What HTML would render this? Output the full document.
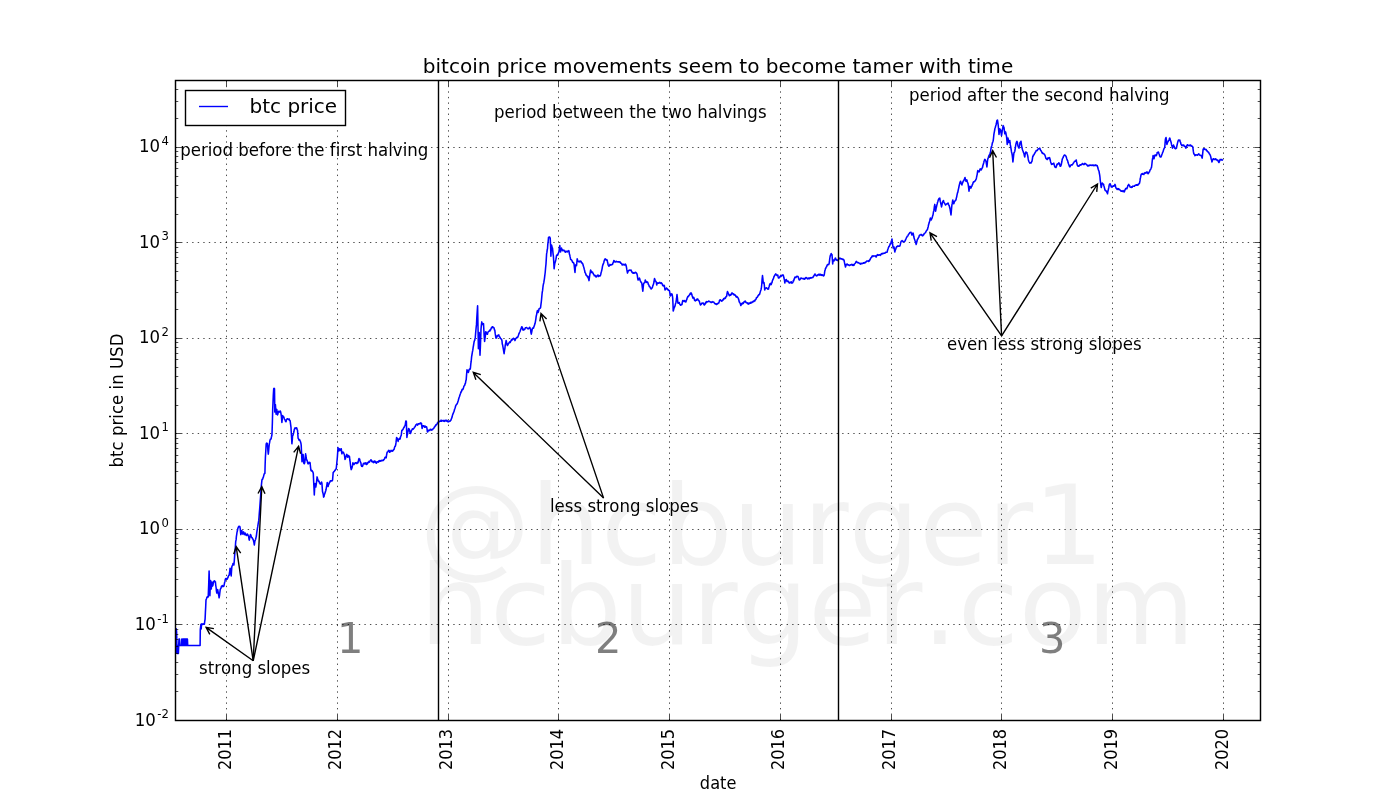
<!DOCTYPE html>
<html><head><meta charset="utf-8"><title>bitcoin price movements</title>
<style>html,body{margin:0;padding:0;background:#fff;}svg{display:block;will-change:transform;}text{font-family:'DejaVu Sans','Liberation Sans',sans-serif;fill:#000;font-variant-ligatures:none;font-kerning:none;}</style></head><body>
<svg width="1400" height="800" viewBox="0 0 1400 800">
<rect width="1400" height="800" fill="#fff"/>
<g fill="#000" fill-opacity="0.052" font-size="111.1px">
<text x="419.5" y="564.3" style="fill:inherit">@hcburger1</text>
<text x="419.7" y="643.8" style="fill:inherit">hcburger.com</text></g>
<path d="M226.5 720.5V80.5M337.5 720.5V80.5M448.5 720.5V80.5M558.5 720.5V80.5M669.5 720.5V80.5M780.5 720.5V80.5M891.5 720.5V80.5M1001.5 720.5V80.5M1112.5 720.5V80.5M1223.5 720.5V80.5M175.5 624.5H1260.5M175.5 529.5H1260.5M175.5 433.5H1260.5M175.5 338.5H1260.5M175.5 242.5H1260.5M175.5 147.5H1260.5" stroke="#000" stroke-width="0.7" stroke-dasharray="1.3889 4.1667" fill="none"/>
<polyline fill="none" stroke="#0000ff" stroke-width="1.55" stroke-linejoin="round" points="176.0,653.7 176.3,628.8 176.6,632.0 176.9,645.4 177.2,653.5 177.5,645.4 177.8,653.5 178.1,645.4 178.4,653.5 178.7,645.4 179.0,639.1 179.2,639.1 179.5,639.1 179.9,645.4 180.3,645.4 180.7,645.4 181.1,645.4 181.5,645.4 181.8,639.1 182.1,639.1 182.3,639.1 182.6,645.4 183.0,645.4 183.2,639.1 183.5,645.4 183.8,639.1 184.1,645.4 184.4,639.1 184.7,645.4 185.0,639.1 185.3,645.4 185.6,639.1 185.9,645.4 186.2,639.1 186.5,645.4 186.8,639.1 187.1,645.4 187.4,639.1 187.7,645.4 188.0,645.4 188.4,645.4 188.8,645.4 189.2,645.4 189.7,645.4 190.1,645.4 190.5,645.4 190.9,645.4 191.3,645.4 191.8,645.4 192.2,645.4 192.6,645.4 193.0,645.4 193.4,645.4 193.8,645.4 194.3,645.4 194.7,645.4 195.1,645.4 195.5,645.4 195.9,645.4 196.3,645.4 196.8,645.4 197.2,645.4 197.6,645.4 198.0,645.4 198.4,645.4 198.8,645.4 199.3,645.4 199.7,645.4 200.1,645.4 200.3,629.5 200.6,627.0 200.9,624.4 201.2,629.0 201.5,624.4 201.9,623.7 202.3,623.9 202.7,624.5 203.2,624.1 203.6,623.9 204.0,624.3 204.4,624.1 204.7,621.5 205.1,619.1 205.4,612.4 205.7,606.8 206.0,599.9 206.4,599.0 206.9,597.4 207.2,596.9 207.6,597.2 207.9,597.0 208.2,596.9 208.7,584.5 209.1,571.0 209.5,583.7 209.9,595.8 210.2,587.9 210.6,580.6 210.9,585.5 211.3,588.9 211.6,584.9 211.9,582.0 212.3,584.0 212.6,586.1 213.0,584.9 213.4,582.4 213.7,581.3 214.2,581.4 214.6,580.8 215.0,581.9 215.4,581.7 215.7,585.0 216.1,587.5 216.4,590.8 216.8,593.0 217.1,591.6 217.4,591.0 217.7,589.6 218.1,591.8 218.4,593.8 218.8,595.7 219.1,597.8 219.5,595.6 219.8,593.0 220.2,589.6 220.6,588.7 221.0,588.2 221.4,586.4 221.9,586.6 222.3,585.5 222.7,585.8 223.1,586.5 223.5,586.4 223.9,586.1 224.3,584.1 224.6,582.5 225.0,581.2 225.3,579.3 225.7,578.5 226.0,579.2 226.4,578.8 226.7,578.7 227.1,579.3 227.5,577.8 227.9,578.0 228.3,576.2 228.7,575.6 229.2,575.1 229.5,572.7 229.8,571.1 230.1,568.2 230.5,570.2 230.8,573.3 231.2,575.9 231.5,571.2 231.9,566.3 232.2,566.0 232.6,564.9 233.0,563.5 233.3,564.5 233.6,564.1 233.9,564.9 234.3,560.7 234.6,556.4 234.9,552.5 235.3,547.6 235.7,541.5 236.1,539.9 236.4,536.4 236.7,534.6 237.0,532.4 237.4,530.8 237.7,529.1 238.1,527.8 238.4,527.1 238.8,526.4 239.1,526.6 239.5,526.2 239.9,526.7 240.2,528.6 240.5,531.9 240.8,534.6 241.1,533.1 241.5,532.0 241.8,530.5 242.2,532.9 242.6,534.0 242.9,533.6 243.2,532.6 243.6,531.9 243.9,533.5 244.3,534.6 244.6,534.5 245.0,533.1 245.4,533.3 245.7,534.6 246.0,535.1 246.3,535.3 246.6,535.4 247.0,534.9 247.3,534.0 247.7,534.5 248.0,535.2 248.4,536.0 248.7,536.8 249.0,539.0 249.3,540.1 249.7,537.7 250.1,535.8 250.4,534.6 250.8,535.1 251.1,536.0 251.4,537.4 251.8,537.6 252.1,537.6 252.5,538.8 252.8,538.7 253.2,539.6 253.5,540.8 253.9,542.3 254.3,545.0 254.6,543.2 254.9,541.0 255.3,540.1 255.6,539.3 256.0,537.6 256.4,536.0 256.7,533.2 257.0,531.1 257.3,529.1 257.7,526.9 258.0,524.8 258.4,522.4 258.7,520.9 259.0,517.3 259.3,513.4 259.7,508.5 260.1,503.0 260.5,497.5 260.8,493.4 261.1,488.6 261.4,485.1 261.9,480.3 262.2,479.3 262.5,479.2 262.8,478.9 263.1,477.4 263.4,477.1 263.8,475.4 264.1,474.2 264.5,473.3 264.9,473.4 265.1,466.1 265.4,457.5 265.8,450.7 266.2,443.8 266.6,443.1 266.9,443.6 267.2,443.4 267.6,446.2 267.9,450.6 268.3,454.1 268.6,451.4 268.9,447.8 269.3,443.8 269.6,442.7 269.9,440.7 270.2,439.6 270.6,439.1 271.1,439.0 271.4,436.9 271.7,436.2 272.0,434.1 272.4,421.8 272.7,409.4 273.0,402.9 273.3,395.4 273.7,388.8 274.1,388.3 274.5,388.8 274.8,412.1 275.1,408.8 275.4,404.6 275.8,410.1 276.1,414.2 276.5,412.3 276.8,409.4 277.2,412.6 277.5,414.9 277.8,414.2 278.1,413.0 278.5,411.4 278.8,411.3 279.2,411.9 279.6,412.1 279.9,411.7 280.2,411.0 280.5,411.4 280.9,413.1 281.4,416.3 281.6,419.0 281.9,422.5 282.3,418.7 282.7,415.6 283.1,416.3 283.4,417.2 283.7,416.9 284.0,417.6 284.4,419.0 284.7,419.7 285.1,419.7 285.4,421.1 285.7,420.9 286.0,421.8 286.4,420.0 286.9,419.0 287.2,418.7 287.6,418.7 287.9,418.8 288.2,419.3 288.6,419.4 288.9,419.7 289.2,419.0 289.5,420.2 289.9,420.4 290.2,421.1 290.6,424.4 291.0,427.3 291.3,433.2 291.6,437.6 291.9,443.8 292.3,439.9 292.6,435.5 293.0,435.4 293.3,434.1 293.6,433.0 294.0,431.3 294.3,429.3 294.7,428.8 295.0,427.9 295.4,428.0 295.7,428.4 296.1,427.7 296.4,428.4 296.8,428.0 297.1,429.7 297.5,430.0 297.8,434.0 298.1,438.3 298.5,438.6 298.9,439.9 299.2,439.6 299.6,440.4 299.9,440.1 300.2,441.0 300.5,441.8 300.9,443.2 301.2,445.1 301.6,454.0 302.0,461.7 302.2,461.1 302.6,459.4 302.9,456.1 303.1,454.4 303.5,459.4 303.9,463.4 304.3,463.8 304.7,462.8 305.0,460.1 305.3,456.6 305.6,453.8 305.9,456.0 306.2,457.4 306.5,460.0 306.9,459.9 307.3,461.1 307.7,463.2 308.1,463.9 308.4,463.6 308.7,462.9 309.0,462.3 309.4,463.1 309.8,462.5 310.1,462.8 310.5,467.0 310.9,470.1 311.3,470.9 311.6,470.3 312.0,470.6 312.4,471.3 312.7,471.7 313.0,472.4 313.3,473.5 313.5,478.1 313.7,482.5 314.0,488.4 314.3,494.9 314.6,489.1 315.0,483.6 315.4,484.8 315.8,487.0 316.1,485.4 316.5,482.5 316.8,479.5 317.1,476.9 317.4,478.0 317.7,479.3 318.0,480.3 318.4,481.2 318.8,480.9 319.1,481.4 319.5,483.0 319.9,483.3 320.3,484.2 320.6,483.7 320.9,483.1 321.2,482.5 321.6,482.1 321.9,483.1 322.2,487.2 322.5,491.5 322.9,492.9 323.3,494.5 323.6,497.1 324.0,496.5 324.4,494.4 324.8,493.8 325.1,492.6 325.4,491.9 325.8,490.5 326.1,489.3 326.5,486.8 326.9,484.8 327.2,482.5 327.5,483.9 327.8,485.6 328.1,486.5 328.4,484.9 328.7,484.7 329.0,483.6 329.4,482.6 329.7,481.9 330.0,481.9 330.4,480.8 330.8,480.8 331.1,480.9 331.5,480.8 331.9,480.9 332.3,480.7 332.6,479.7 332.9,476.0 333.2,472.4 333.6,472.2 333.9,471.6 334.3,471.3 334.7,470.7 335.1,470.4 335.4,469.6 335.9,469.2 336.2,469.0 336.5,466.1 336.8,463.0 337.1,460.0 337.4,456.6 337.7,452.1 338.0,447.6 338.4,449.9 338.8,451.0 339.2,450.6 339.6,448.8 339.9,449.0 340.2,450.0 340.5,450.4 340.9,450.3 341.3,448.8 341.6,451.8 341.9,453.8 342.2,452.7 342.5,452.1 342.8,452.1 343.1,452.4 343.4,452.2 343.7,453.3 344.1,453.7 344.4,454.9 344.7,456.6 345.0,459.4 345.3,458.8 345.6,458.0 345.9,456.6 346.3,456.1 346.7,454.4 347.1,454.8 347.4,456.6 347.8,457.2 348.1,456.9 348.4,455.5 348.7,455.5 349.1,456.6 349.5,456.6 349.8,460.0 350.1,461.5 350.4,464.5 350.8,467.7 351.2,469.6 351.6,468.6 352.0,467.9 352.3,466.2 352.6,465.2 352.9,462.8 353.3,463.9 353.6,463.4 354.0,464.5 354.4,463.9 354.8,463.4 355.1,462.8 355.5,462.8 355.9,462.8 356.3,463.4 356.6,463.0 356.9,463.5 357.3,462.3 357.6,463.0 358.0,462.8 358.4,461.1 358.7,459.4 359.0,458.5 359.3,458.8 359.6,458.9 359.9,460.2 360.2,461.2 360.5,462.3 360.9,462.9 361.3,465.6 361.7,466.2 362.1,466.4 362.4,466.5 362.8,465.6 363.2,463.9 363.6,463.4 364.0,463.2 364.3,463.1 364.7,463.9 365.1,464.0 365.5,462.9 365.8,462.8 366.2,463.1 366.6,464.5 366.9,463.8 367.2,464.0 367.5,462.8 367.9,463.1 368.3,462.1 368.6,462.3 369.0,461.4 369.4,462.1 369.8,461.1 370.1,460.9 370.4,460.7 370.7,460.0 371.0,459.8 371.4,460.2 371.7,461.6 372.0,461.7 372.4,461.8 372.8,461.4 373.1,462.3 373.5,462.6 373.9,461.7 374.3,461.1 374.6,461.9 374.9,461.1 375.3,462.5 375.6,462.3 376.0,461.8 376.4,463.2 376.8,462.8 377.1,462.4 377.5,461.8 377.9,461.7 378.2,461.6 378.6,462.1 379.0,460.9 379.3,461.1 379.7,460.6 380.0,461.2 380.4,460.8 380.7,460.6 381.0,461.1 381.4,460.5 381.7,460.2 382.0,460.4 382.4,460.4 382.7,460.6 383.1,460.0 383.4,460.4 383.8,459.4 384.2,459.4 384.6,458.7 384.9,457.5 385.3,457.2 385.6,457.2 385.9,456.9 386.2,457.8 386.5,455.5 386.9,453.3 387.2,452.1 387.6,452.1 388.0,451.5 388.3,451.0 388.7,450.3 389.1,450.4 389.4,451.0 389.7,452.2 390.0,452.1 390.4,451.0 390.8,451.5 391.1,450.4 391.5,450.5 391.9,450.8 392.3,451.0 392.6,451.2 392.9,450.3 393.3,450.2 393.6,449.9 393.9,449.4 394.2,449.1 394.5,447.6 394.9,446.5 395.3,446.3 395.7,444.8 396.0,442.7 396.3,440.1 396.6,437.5 396.9,437.9 397.3,438.6 397.7,439.8 398.1,441.4 398.4,440.0 398.7,439.4 399.0,439.2 399.4,438.4 399.8,439.2 400.2,438.6 400.5,437.1 400.9,435.9 401.3,435.3 401.6,432.1 401.9,430.2 402.2,430.3 402.6,430.0 403.0,429.1 403.4,428.8 403.7,427.6 404.1,427.4 404.5,426.2 404.9,425.6 405.2,425.1 405.5,423.1 405.8,421.2 406.1,421.0 406.4,421.8 406.6,429.6 406.9,437.5 407.2,435.3 407.5,434.4 407.8,431.9 408.2,430.9 408.6,428.5 409.0,429.1 409.4,429.6 409.7,430.9 410.1,433.0 410.5,433.4 410.9,432.4 411.2,431.2 411.6,430.4 412.0,429.6 412.4,428.7 412.7,429.1 413.1,429.1 413.5,428.7 413.9,428.3 414.2,427.9 414.6,426.9 415.0,426.8 415.4,426.2 415.7,424.9 416.1,424.8 416.5,424.6 416.9,424.1 417.2,424.8 417.6,425.1 418.0,424.1 418.4,423.7 418.7,424.0 419.1,423.7 419.5,423.6 419.9,424.0 420.2,423.6 420.6,422.9 420.9,423.1 421.2,423.6 421.5,423.4 421.8,426.2 422.1,428.5 422.5,427.4 422.9,425.7 423.2,426.4 423.6,425.8 424.0,425.9 424.4,426.2 424.7,427.2 425.1,426.1 425.5,426.8 425.9,427.2 426.2,427.0 426.6,426.8 427.0,428.7 427.4,431.9 427.7,431.8 428.0,431.3 428.3,430.2 428.7,430.4 429.0,430.5 429.4,430.2 429.8,430.5 430.2,429.3 430.5,429.6 430.9,429.7 431.2,429.6 431.6,430.1 431.9,429.6 432.3,429.8 432.6,429.6 433.0,428.9 433.4,428.5 433.7,428.5 434.1,427.6 434.5,426.8 434.9,426.7 435.2,425.7 435.6,425.7 436.0,424.6 436.4,424.4 436.7,424.6 437.1,423.7 437.5,422.7 437.9,423.1 438.2,421.9 438.7,421.8 439.1,421.7 439.5,421.5 439.9,421.1 440.3,421.3 440.7,421.0 441.1,420.1 441.5,421.3 441.9,421.1 442.3,420.6 442.7,420.7 443.1,420.9 443.5,421.1 443.9,420.3 444.4,421.4 444.8,421.1 445.2,420.7 445.6,420.3 446.0,420.5 446.4,421.2 446.8,420.3 447.2,420.6 447.6,421.2 448.0,421.9 448.4,421.4 448.8,421.6 449.2,421.2 449.6,421.1 450.0,421.2 450.4,420.6 450.9,420.2 451.3,419.0 451.7,418.2 452.1,417.1 452.5,415.2 452.9,414.1 453.3,413.1 453.7,412.2 454.1,411.3 454.5,409.5 454.9,408.6 455.3,407.3 455.7,405.8 456.1,405.0 456.5,404.5 456.9,404.1 457.4,403.1 457.8,401.9 458.2,400.7 458.6,399.2 459.0,397.7 459.4,396.8 459.8,395.5 460.2,394.3 460.6,393.2 461.0,391.7 461.4,391.9 461.8,390.2 462.2,389.2 462.6,389.7 463.1,389.1 463.5,387.8 463.9,386.1 464.3,385.7 464.7,385.2 465.1,383.7 465.5,383.1 465.8,380.9 466.2,379.7 466.6,374.4 467.0,369.9 467.4,370.1 467.7,371.8 468.0,371.3 468.3,372.4 468.7,371.4 469.1,369.7 469.5,369.1 469.8,368.9 470.1,369.2 470.4,368.3 470.8,363.9 471.2,361.2 471.6,356.9 472.0,354.5 472.4,352.0 472.8,350.2 473.2,347.1 473.6,345.0 474.0,342.3 474.4,340.7 474.7,340.4 475.0,338.6 475.3,337.4 475.7,332.4 476.1,328.0 476.5,324.4 476.8,318.1 477.2,311.9 477.6,305.7 478.0,326.9 478.4,348.8 478.8,340.1 479.2,332.5 479.6,343.7 480.0,355.3 480.4,346.3 480.7,338.4 481.0,329.3 481.4,324.9 481.8,321.9 482.2,323.6 482.6,324.4 483.1,324.5 483.5,323.6 483.8,329.0 484.2,336.1 484.6,341.5 485.0,338.5 485.4,335.6 485.7,331.7 486.1,332.0 486.4,332.7 486.7,333.4 487.0,334.1 487.4,334.3 487.7,333.1 488.0,332.1 488.3,331.7 488.7,331.4 489.1,331.0 489.6,330.4 490.0,330.9 490.3,329.5 490.7,329.8 491.1,328.5 491.5,327.6 491.9,328.0 492.2,326.8 492.6,326.7 492.9,326.9 493.2,327.4 493.5,327.6 493.9,327.8 494.2,328.7 494.5,330.1 494.8,330.1 495.2,333.4 495.6,336.0 496.0,338.2 496.4,337.6 496.7,337.2 497.1,335.8 497.4,336.2 497.8,335.4 498.1,335.5 498.4,335.0 498.8,334.9 499.2,336.5 499.6,336.7 500.0,337.4 500.4,338.4 500.9,338.8 501.3,338.9 501.7,339.8 502.0,341.0 502.3,344.1 502.6,344.8 503.0,347.1 503.4,349.3 503.7,351.3 504.1,353.7 504.5,350.6 504.9,348.6 505.2,345.5 505.6,343.8 506.1,340.6 506.4,341.5 506.7,343.3 507.0,344.0 507.4,345.5 507.8,345.0 508.2,344.1 508.6,343.2 509.0,343.1 509.4,342.2 509.8,341.8 510.2,342.5 510.6,341.5 511.0,340.9 511.4,339.8 511.8,340.2 512.2,339.0 512.6,339.7 513.0,338.8 513.5,338.2 513.9,338.7 514.2,338.9 514.6,339.4 515.0,340.6 515.3,339.8 515.6,338.8 516.0,338.4 516.3,338.2 516.7,337.4 517.1,337.5 517.5,337.6 517.9,336.6 518.3,335.9 518.7,334.4 519.1,333.4 519.5,332.5 520.0,331.5 520.4,330.3 520.8,329.2 521.2,328.5 521.6,327.0 522.0,326.8 522.4,327.6 522.8,329.7 523.1,330.1 523.5,329.3 523.8,329.7 524.1,329.7 524.4,329.3 524.8,329.4 525.2,328.0 525.6,327.7 526.1,327.6 526.5,327.5 526.9,327.9 527.3,328.2 527.7,328.5 528.1,328.9 528.5,328.6 528.9,328.4 529.3,327.6 529.6,327.3 530.0,327.8 530.3,329.2 530.6,329.3 530.9,332.3 531.3,334.1 531.6,332.5 531.9,331.0 532.2,329.3 532.6,327.9 533.0,327.9 533.5,328.1 533.9,326.8 534.3,325.9 534.7,324.5 535.1,323.3 535.5,321.1 535.9,318.6 536.2,316.2 536.6,314.6 537.0,312.1 537.4,310.6 537.8,311.6 538.1,312.5 538.4,311.5 538.7,310.7 539.0,308.8 539.4,308.8 539.8,308.4 540.2,308.2 540.6,307.5 540.9,304.9 541.2,302.6 541.5,300.0 541.9,295.6 542.2,292.5 542.6,290.4 542.9,287.5 543.2,285.2 543.5,283.8 543.8,282.7 544.1,280.6 544.4,278.8 544.7,276.4 545.0,274.0 545.2,272.5 545.6,267.8 546.0,263.8 546.3,258.9 546.6,253.8 546.9,252.4 547.2,249.8 547.5,248.8 547.8,244.4 548.2,241.3 548.5,237.5 548.8,237.4 549.1,236.9 549.4,236.9 549.7,236.9 550.0,237.9 550.2,238.1 550.6,246.4 550.9,256.2 551.2,250.3 551.5,245.0 551.8,246.0 552.2,247.8 552.5,248.1 552.8,251.1 553.1,254.1 553.4,256.2 553.8,262.5 554.1,268.8 554.4,266.3 554.7,264.2 555.0,262.5 555.3,262.1 555.6,260.7 555.9,259.4 556.2,257.6 556.5,255.7 556.9,255.0 557.2,255.0 557.5,255.3 557.8,255.0 558.1,254.1 558.4,253.0 558.8,252.5 559.1,250.5 559.4,248.6 559.8,245.6 560.0,247.4 560.3,249.2 560.6,251.9 560.9,250.4 561.2,249.3 561.5,248.1 561.8,249.2 562.2,249.4 562.5,250.6 562.9,250.8 563.3,250.5 563.8,250.0 564.2,250.6 564.6,250.9 565.0,251.9 565.4,252.2 565.8,251.2 566.2,251.2 566.7,251.8 567.1,251.3 567.5,251.9 567.9,251.1 568.3,251.3 568.8,250.6 569.1,251.8 569.4,254.1 569.8,255.0 570.0,256.4 570.3,257.5 570.6,259.4 571.0,259.5 571.5,260.1 571.9,260.6 572.3,261.4 572.7,262.4 573.1,262.5 573.4,262.5 573.7,263.2 574.0,263.8 574.3,266.3 574.7,270.1 575.0,272.5 575.3,268.3 575.6,265.0 575.9,264.7 576.2,264.9 576.5,265.6 576.9,262.1 577.2,258.8 577.5,260.1 577.8,260.9 578.1,261.2 578.5,261.5 579.0,261.9 579.4,261.2 579.8,261.8 580.2,261.1 580.6,261.2 581.0,261.3 581.5,262.6 581.9,262.5 582.3,263.6 582.7,263.6 583.1,265.0 583.4,266.2 583.7,266.9 584.0,268.1 584.3,269.4 584.7,270.8 585.0,272.5 585.3,272.9 585.7,273.6 586.0,275.0 586.4,275.1 586.8,275.7 587.2,276.2 587.5,277.0 587.8,276.2 588.1,276.9 588.4,278.7 588.7,279.0 589.0,280.6 589.4,277.6 589.8,275.0 590.0,273.7 590.3,272.1 590.6,270.0 590.9,270.8 591.2,271.1 591.5,272.5 591.8,272.3 592.2,271.9 592.5,271.9 592.8,273.2 593.2,273.2 593.5,274.4 593.9,274.6 594.3,275.7 594.8,275.6 595.1,275.4 595.5,276.1 595.9,276.9 596.2,276.9 596.7,276.8 597.1,275.5 597.5,275.6 597.9,275.1 598.2,275.2 598.6,276.4 599.0,275.6 599.4,276.0 599.8,276.0 600.2,275.8 600.6,275.0 600.9,273.6 601.2,272.2 601.5,271.2 601.8,270.1 602.2,268.1 602.5,266.2 602.9,264.7 603.3,264.0 603.8,262.5 604.1,261.2 604.4,260.1 604.8,259.4 605.2,258.8 605.6,259.7 606.0,259.4 606.4,260.1 606.8,259.9 607.2,260.0 607.5,262.2 607.8,262.8 608.1,265.0 608.4,265.3 608.8,266.2 609.2,265.6 609.6,265.6 610.0,264.4 610.4,265.1 610.8,264.7 611.2,265.0 611.7,264.5 612.1,264.5 612.5,264.4 612.9,263.1 613.3,262.4 613.8,260.6 614.2,260.7 614.6,261.8 615.0,261.9 615.4,262.0 615.8,261.9 616.2,261.2 616.7,261.8 617.1,261.8 617.5,261.9 617.9,261.7 618.2,261.7 618.6,261.7 619.0,262.2 619.4,261.9 619.8,261.7 620.2,262.1 620.6,263.1 621.0,263.1 621.4,263.4 621.8,263.9 622.2,265.0 622.6,264.3 623.0,264.8 623.4,264.3 623.8,264.4 624.1,265.0 624.5,264.8 624.9,265.0 625.2,264.1 625.6,264.4 625.9,264.9 626.2,266.0 626.5,267.5 626.8,269.4 627.2,271.5 627.5,273.1 627.8,272.2 628.2,271.1 628.5,270.6 628.9,270.3 629.3,270.4 629.8,270.0 630.2,270.2 630.6,270.3 631.0,270.0 631.4,271.2 631.8,271.9 632.2,272.5 632.6,272.2 633.0,273.2 633.4,272.7 633.8,273.1 634.1,273.1 634.5,272.7 634.9,273.0 635.2,272.3 635.6,272.5 636.0,272.6 636.5,273.0 636.9,273.8 637.3,275.4 637.7,278.4 638.1,280.0 638.5,279.5 639.0,278.5 639.4,278.1 639.8,279.0 640.2,280.8 640.6,281.2 641.0,282.1 641.5,282.6 641.9,283.8 642.2,286.6 642.5,288.9 642.8,291.2 643.1,288.4 643.5,284.4 643.8,283.3 644.1,283.1 644.4,282.5 644.7,282.1 645.0,281.2 645.3,280.0 645.6,281.3 645.9,281.1 646.2,282.5 646.5,282.1 646.9,281.7 647.2,282.0 647.6,282.1 648.0,283.0 648.3,284.4 648.7,284.8 649.0,285.5 649.3,286.5 649.7,286.4 650.0,287.0 650.4,288.1 650.8,288.3 651.2,289.0 651.5,288.2 651.9,288.3 652.2,287.5 652.5,287.2 652.9,285.4 653.2,285.0 653.6,283.6 654.0,282.0 654.2,280.4 654.5,278.5 654.9,279.4 655.2,281.0 655.6,281.1 656.0,281.5 656.4,282.8 656.7,285.0 657.1,283.6 657.5,283.0 657.8,282.8 658.2,283.2 658.5,283.2 658.8,283.2 659.2,282.6 659.5,282.8 659.8,282.4 660.2,282.9 660.5,283.2 660.8,283.4 661.2,282.7 661.5,283.0 661.8,283.4 662.2,284.0 662.5,285.0 662.8,285.7 663.2,285.7 663.5,286.0 663.9,285.2 664.3,285.5 664.6,287.3 665.0,290.0 665.4,289.4 665.8,289.0 666.1,288.6 666.5,288.0 666.8,288.7 667.2,288.5 667.5,289.5 667.8,289.3 668.2,290.1 668.5,290.0 668.8,290.2 669.2,290.4 669.5,291.0 669.9,293.3 670.2,296.0 670.6,295.5 671.0,294.0 671.3,293.8 671.7,294.1 672.0,294.0 672.4,295.8 672.7,298.0 673.0,304.4 673.2,311.0 673.6,309.9 674.0,308.0 674.3,307.9 674.7,306.5 675.0,306.0 675.4,304.1 675.8,303.0 676.1,301.3 676.5,299.0 676.8,296.4 677.0,294.5 677.4,297.9 677.8,302.5 678.1,303.2 678.5,303.0 678.9,302.7 679.2,302.5 679.6,303.9 680.0,304.5 680.3,304.6 680.7,305.3 681.0,305.0 681.3,304.8 681.7,304.3 682.0,304.5 682.4,301.9 682.8,300.5 683.1,300.7 683.5,301.0 683.8,301.0 684.1,301.5 684.5,300.5 684.8,301.0 685.1,301.5 685.5,301.5 685.8,302.0 686.1,301.2 686.5,299.9 686.8,299.5 687.1,298.2 687.5,297.5 687.8,296.5 688.1,296.8 688.5,295.7 688.8,296.0 689.1,295.3 689.5,295.0 689.8,294.0 690.1,294.2 690.5,293.0 690.8,293.0 691.1,292.9 691.5,294.2 691.8,294.0 692.1,295.9 692.5,296.6 692.8,298.0 693.1,297.3 693.5,298.2 693.8,297.5 694.1,298.4 694.5,300.0 694.8,300.5 695.1,300.6 695.5,300.9 695.8,300.5 696.1,299.8 696.5,300.2 696.8,299.5 697.1,299.0 697.5,299.1 697.8,299.0 698.1,299.9 698.5,300.4 698.8,300.5 699.1,300.9 699.5,301.8 699.8,303.0 700.1,303.9 700.5,305.0 700.8,304.7 701.2,304.2 701.5,304.0 701.8,303.2 702.2,303.0 702.5,303.0 702.9,303.3 703.3,303.0 703.6,304.1 704.0,303.8 704.3,305.0 704.6,304.6 705.0,304.3 705.3,303.5 705.6,302.4 706.0,302.9 706.3,302.0 706.7,301.5 707.1,302.0 707.5,301.8 707.8,301.7 708.2,301.6 708.5,301.2 708.8,301.1 709.2,301.3 709.5,301.5 709.8,301.8 710.2,301.7 710.5,302.0 710.8,302.4 711.2,302.3 711.5,302.5 711.8,302.3 712.2,301.6 712.5,302.0 712.8,302.1 713.2,302.0 713.5,302.0 713.8,302.0 714.2,303.0 714.5,303.0 714.8,303.7 715.2,303.6 715.5,304.0 715.8,303.8 716.2,304.3 716.5,304.5 716.8,303.9 717.2,303.7 717.5,304.0 717.8,303.7 718.1,303.0 718.5,303.2 718.8,303.0 719.1,302.0 719.5,300.4 719.8,300.0 720.1,300.3 720.5,299.8 720.8,300.5 721.1,300.9 721.5,301.2 721.8,301.0 722.1,300.9 722.5,300.1 722.8,300.5 723.1,299.8 723.5,299.0 723.8,298.5 724.1,299.0 724.5,298.1 724.8,298.5 725.1,298.4 725.5,298.1 725.8,297.0 726.1,296.8 726.5,296.4 726.8,295.5 727.1,293.1 727.5,291.5 727.9,292.8 728.2,293.0 728.6,294.0 729.0,295.0 729.3,295.6 729.7,295.6 730.0,295.2 730.3,294.6 730.7,295.1 731.0,294.5 731.3,294.5 731.7,293.0 732.0,293.0 732.3,293.1 732.7,294.0 733.0,294.0 733.3,293.8 733.7,294.8 734.0,294.5 734.3,294.4 734.7,295.2 735.0,295.0 735.3,295.1 735.7,296.0 736.0,296.5 736.4,297.2 736.8,296.5 737.2,297.0 737.5,297.1 737.9,297.7 738.2,298.0 738.5,299.1 738.9,300.1 739.2,302.0 739.6,302.1 740.0,303.0 740.4,303.8 740.8,305.5 741.1,305.0 741.5,303.5 741.8,303.7 742.2,304.0 742.5,303.5 742.8,302.9 743.2,303.5 743.5,303.0 743.8,302.0 744.2,302.0 744.5,301.5 744.9,301.4 745.2,301.0 745.5,301.3 745.9,302.4 746.2,302.5 746.5,302.7 746.9,302.9 747.2,303.0 747.5,303.6 747.9,302.9 748.2,303.5 748.5,304.1 748.9,303.7 749.2,303.5 749.5,303.1 749.9,303.4 750.2,302.8 750.5,302.4 750.9,303.2 751.2,302.5 751.5,302.5 751.9,302.1 752.2,302.4 752.5,302.0 752.9,301.7 753.2,301.2 753.6,301.7 754.0,301.2 754.4,300.4 754.8,301.0 755.1,300.0 755.5,300.0 755.8,299.3 756.2,298.9 756.5,297.5 756.8,297.4 757.2,297.4 757.5,297.0 757.8,296.3 758.2,295.4 758.5,295.5 758.8,294.6 759.2,294.4 759.5,294.5 759.8,293.5 760.2,292.1 760.5,291.0 760.9,290.0 761.2,289.0 761.5,287.0 761.8,284.0 762.1,279.3 762.5,275.5 762.9,278.9 763.2,283.0 763.6,282.9 764.0,282.5 764.4,285.7 764.7,290.0 765.1,288.6 765.5,288.5 765.8,288.2 766.2,287.7 766.5,288.0 766.8,288.2 767.2,288.3 767.5,289.0 767.8,289.1 768.2,289.1 768.5,289.0 768.8,287.3 769.2,286.5 769.5,285.0 769.9,284.2 770.3,283.5 770.6,283.4 770.9,284.7 771.2,284.5 771.6,283.2 772.0,282.5 772.3,281.1 772.7,280.0 773.0,279.5 773.3,278.7 773.7,277.9 774.0,276.5 774.3,276.3 774.7,275.4 775.0,275.0 775.3,274.4 775.7,273.9 776.0,274.2 776.3,274.8 776.7,275.1 777.0,275.5 777.4,275.1 777.8,275.0 778.1,276.7 778.5,278.0 778.8,277.6 779.2,277.9 779.5,277.0 779.8,277.0 780.2,276.2 780.5,276.2 780.8,276.6 781.2,275.5 781.5,276.0 781.8,275.7 782.2,275.2 782.5,275.0 782.8,275.0 783.2,275.1 783.5,276.0 783.9,277.8 784.2,279.0 784.5,280.4 784.8,283.0 785.1,281.6 785.5,280.0 785.9,280.3 786.2,279.5 786.6,280.1 787.0,281.5 787.3,281.0 787.7,281.3 788.0,281.0 788.3,281.5 788.7,282.2 789.0,282.5 789.3,283.0 789.7,282.4 790.0,283.0 790.3,282.4 790.7,282.1 791.0,282.0 791.3,281.8 791.7,283.1 792.0,283.0 792.3,283.0 792.7,282.6 793.0,282.0 793.3,280.6 793.7,280.8 794.0,279.5 794.3,279.0 794.7,277.8 795.0,277.0 795.3,277.5 795.7,277.3 796.0,277.5 796.3,276.8 796.7,276.4 797.0,276.5 797.4,276.4 797.8,276.3 798.2,277.0 798.5,277.8 798.9,279.3 799.2,280.0 799.5,279.9 799.9,279.8 800.2,279.0 800.5,278.9 800.9,278.1 801.2,278.0 801.5,278.2 801.9,278.2 802.2,278.7 802.5,278.5 802.9,278.6 803.2,278.4 803.6,278.9 804.0,278.8 804.4,279.2 804.8,278.2 805.1,278.8 805.5,278.2 805.8,277.5 806.2,277.6 806.5,277.8 806.8,277.7 807.2,278.6 807.5,278.5 807.9,279.0 808.2,278.6 808.6,278.1 809.0,278.2 809.4,278.6 809.8,277.8 810.1,277.6 810.5,277.8 810.9,278.2 811.2,277.8 811.6,277.8 812.0,277.5 812.4,277.5 812.8,277.6 813.2,276.8 813.5,276.2 813.9,276.0 814.2,275.0 814.6,274.7 815.0,274.0 815.3,274.9 815.7,274.9 816.0,275.5 816.3,275.9 816.7,275.8 817.0,275.8 817.3,275.3 817.7,274.9 818.0,275.0 818.4,275.0 818.8,274.2 819.2,274.5 819.5,275.1 819.9,274.3 820.2,274.3 820.5,275.0 820.8,274.5 821.2,275.4 821.5,274.8 821.8,274.9 822.2,274.8 822.5,275.5 822.8,275.1 823.2,275.3 823.5,276.0 823.9,275.7 824.2,275.0 824.5,273.2 824.8,271.0 825.1,270.0 825.5,268.5 825.8,268.3 826.2,267.0 826.5,267.0 826.9,266.1 827.2,265.0 827.6,264.6 828.0,264.5 828.3,264.7 828.7,264.6 829.0,264.0 829.4,262.0 829.7,259.0 830.1,256.5 830.5,255.0 830.9,254.7 831.2,253.5 831.6,254.5 832.0,254.5 832.4,259.8 832.7,264.0 833.0,261.5 833.3,260.0 833.6,260.1 834.0,261.0 834.4,260.0 834.8,260.0 835.1,258.4 835.5,258.0 835.9,259.2 836.2,259.5 836.6,260.1 837.0,260.0 837.4,260.4 837.8,260.5 838.2,260.1 838.6,259.0 839.0,259.0 839.3,258.5 839.6,258.1 840.0,258.5 840.4,258.2 840.8,259.0 841.2,258.8 841.5,258.7 841.9,259.0 842.2,259.2 842.5,259.5 842.9,259.1 843.2,259.5 843.6,259.7 844.0,260.0 844.4,262.2 844.8,264.0 845.1,265.4 845.5,267.0 845.9,265.6 846.2,264.5 846.5,264.8 846.9,264.2 847.2,264.0 847.5,264.7 847.9,264.8 848.2,265.0 848.5,264.7 848.9,265.2 849.2,265.5 849.5,265.3 849.9,265.4 850.2,265.0 850.5,264.7 850.9,264.9 851.2,264.7 851.5,264.5 851.8,264.4 852.2,265.2 852.5,265.0 852.9,264.6 853.2,265.4 853.6,264.8 854.0,265.2 854.3,264.1 854.7,263.8 855.0,263.5 855.3,263.2 855.7,262.8 856.0,261.8 856.3,261.4 856.7,261.9 857.0,262.0 857.3,262.3 857.7,262.8 858.0,262.8 858.4,262.6 858.8,263.1 859.2,263.2 859.5,263.2 859.9,263.8 860.2,263.4 860.5,263.8 860.8,264.2 861.1,263.4 861.5,263.3 861.8,263.5 862.2,263.6 862.6,263.3 863.0,263.2 863.4,262.7 863.8,263.1 864.1,262.5 864.5,262.8 864.8,262.9 865.1,262.6 865.5,262.5 865.8,262.0 866.2,261.8 866.6,261.2 867.0,261.0 867.4,261.0 867.8,261.0 868.2,261.2 868.5,261.5 868.9,260.6 869.2,261.0 869.5,260.9 869.9,259.5 870.2,259.5 870.5,258.5 870.9,257.9 871.2,257.5 871.5,257.4 871.9,256.5 872.2,256.0 872.5,255.9 872.9,256.5 873.2,256.2 873.5,255.9 873.9,256.0 874.2,256.0 874.5,256.0 874.9,256.1 875.2,255.8 875.5,256.4 875.9,256.8 876.2,257.0 876.5,256.2 876.9,255.5 877.2,255.0 877.5,254.6 877.9,255.2 878.2,254.8 878.5,255.0 878.9,255.2 879.2,255.0 879.5,254.7 879.9,255.0 880.2,255.4 880.5,255.2 880.8,254.8 881.1,254.0 881.5,253.9 881.8,253.5 882.2,254.0 882.6,253.4 883.0,253.8 883.4,253.3 883.8,253.2 884.2,253.2 884.5,253.3 884.9,253.3 885.2,252.6 885.5,252.8 885.9,252.3 886.2,252.2 886.6,252.2 887.0,252.2 887.3,251.2 887.7,249.7 888.0,249.0 888.3,248.0 888.7,247.0 889.0,246.5 889.3,246.3 889.7,245.4 890.0,244.5 890.3,243.6 890.7,244.0 891.0,243.0 891.3,241.3 891.7,240.2 892.0,239.0 892.3,242.0 892.6,244.0 892.9,246.3 893.2,248.0 893.6,247.7 894.0,247.0 894.4,249.4 894.8,252.0 895.2,250.4 895.6,249.5 895.9,248.8 896.2,247.4 896.5,247.0 896.8,246.5 897.2,246.6 897.5,246.5 897.8,245.9 898.2,246.1 898.5,246.0 898.8,246.3 899.1,246.2 899.5,246.0 899.8,246.0 900.2,244.9 900.5,243.6 900.9,242.1 901.2,241.2 901.6,241.1 901.9,240.7 902.2,240.6 902.7,241.3 903.1,241.9 903.5,241.9 903.9,241.6 904.3,241.5 904.8,241.2 905.2,240.7 905.6,239.5 906.0,238.8 906.4,237.7 906.8,237.3 907.2,236.2 907.7,236.0 908.1,235.3 908.5,234.4 908.9,233.9 909.3,233.5 909.8,232.5 910.2,232.6 910.6,232.5 911.0,232.2 911.3,233.1 911.6,233.9 911.9,235.0 912.3,234.5 912.7,233.3 913.1,233.1 913.4,234.5 913.7,236.3 914.0,237.5 914.3,238.8 914.7,239.7 915.0,240.6 915.4,241.6 915.8,243.1 916.2,244.4 916.6,242.9 916.9,241.6 917.2,240.0 917.7,239.1 918.1,238.5 918.5,237.5 918.9,237.1 919.3,235.5 919.8,235.0 920.2,234.9 920.6,234.9 921.0,234.4 921.4,234.7 921.8,235.2 922.2,235.6 922.7,235.9 923.1,234.7 923.5,235.0 923.9,234.4 924.3,233.4 924.8,233.1 925.1,232.9 925.5,232.6 925.9,231.7 926.2,231.2 926.7,230.2 927.1,230.1 927.5,229.4 927.8,228.0 928.2,226.7 928.5,225.0 928.8,224.0 929.1,223.1 929.4,221.9 929.7,221.0 930.0,219.4 930.4,218.1 930.7,218.7 931.0,219.8 931.2,220.0 931.6,218.9 931.9,218.5 932.2,217.5 932.6,216.1 932.9,215.3 933.2,213.8 933.5,211.7 933.8,210.9 934.1,208.8 934.4,206.4 934.8,204.4 935.0,206.2 935.3,208.7 935.6,211.2 935.9,209.7 936.2,207.8 936.5,206.9 936.8,205.3 937.2,203.9 937.5,202.5 937.8,201.7 938.2,200.3 938.5,199.4 938.9,198.7 939.3,198.3 939.8,198.1 940.0,199.8 940.3,201.5 940.6,202.5 940.9,204.0 941.2,205.1 941.5,206.9 941.8,205.7 942.2,203.8 942.5,202.5 942.8,201.6 943.2,200.9 943.5,200.6 943.8,201.7 944.2,202.6 944.5,203.1 944.9,203.9 945.2,204.3 945.6,205.0 946.0,204.7 946.5,203.9 946.9,203.8 947.3,204.0 947.7,203.2 948.1,203.1 948.5,204.3 949.0,205.5 949.4,206.2 949.7,207.8 950.0,208.7 950.2,210.0 950.6,212.3 951.0,215.0 951.3,211.7 951.6,208.0 951.9,205.0 952.2,203.7 952.5,201.5 952.8,200.0 953.1,201.6 953.4,202.3 953.8,203.8 954.1,202.8 954.4,201.8 954.8,201.2 955.2,200.8 955.6,200.1 956.0,200.0 956.3,198.0 956.6,197.3 956.9,195.6 957.2,194.2 957.5,192.9 957.9,191.9 958.2,190.2 958.5,188.9 958.8,187.5 959.1,186.0 959.4,184.7 959.8,183.1 960.0,182.7 960.3,181.7 960.6,181.2 961.0,182.9 961.5,184.1 961.9,185.0 962.3,183.3 962.7,182.8 963.1,181.2 963.5,181.0 964.0,180.3 964.4,179.4 964.7,178.1 965.0,177.5 965.3,179.1 965.7,180.1 966.0,181.2 966.3,180.3 966.6,179.9 966.9,180.0 967.3,181.7 967.7,182.7 968.1,183.8 968.4,186.0 968.7,188.3 969.0,191.2 969.3,189.2 969.7,187.7 970.0,186.2 970.3,187.2 970.7,187.3 971.0,188.1 971.4,186.7 971.8,186.4 972.2,185.0 972.7,184.2 973.1,182.6 973.5,181.9 973.9,182.1 974.3,181.6 974.8,181.2 975.2,180.9 975.6,180.2 976.0,179.4 976.3,178.5 976.6,177.2 976.9,175.6 977.2,174.3 977.5,172.0 977.8,170.6 978.2,171.2 978.6,171.5 979.0,171.9 979.4,171.1 979.8,169.7 980.2,168.8 980.6,169.6 980.9,169.6 981.2,170.0 981.7,168.9 982.1,168.1 982.5,167.5 982.9,165.5 983.3,164.2 983.8,162.5 984.1,161.0 984.4,160.4 984.8,159.4 985.2,159.7 985.6,160.6 986.0,161.2 986.3,163.1 986.6,165.0 986.9,166.9 987.2,164.5 987.5,161.0 987.8,158.8 988.2,158.1 988.6,156.6 989.0,155.6 989.4,154.8 989.8,154.1 990.2,153.1 990.6,151.6 990.9,149.2 991.2,147.5 991.6,146.2 991.9,145.5 992.2,143.8 992.6,142.3 992.9,141.8 993.2,140.6 993.5,138.3 993.8,135.2 994.1,133.1 994.4,131.6 994.7,130.0 995.0,128.1 995.3,127.5 995.7,125.9 996.0,125.0 996.3,124.0 996.6,122.1 996.9,120.6 997.2,120.3 997.5,120.0 997.9,122.9 998.2,125.0 998.6,129.2 999.0,134.4 999.4,131.8 999.8,128.8 1000.0,129.3 1000.3,129.4 1000.6,130.0 1000.9,132.2 1001.2,133.6 1001.5,135.6 1001.9,133.4 1002.2,131.2 1002.5,129.4 1002.8,127.8 1003.1,125.6 1003.4,126.0 1003.7,126.8 1004.0,127.5 1004.4,130.6 1004.8,133.8 1005.0,133.2 1005.3,132.8 1005.6,131.9 1005.9,133.1 1006.2,135.1 1006.5,136.2 1006.9,140.2 1007.2,144.4 1007.6,141.2 1008.0,138.1 1008.4,140.1 1008.8,142.5 1009.1,141.9 1009.4,141.7 1009.8,140.6 1010.0,142.7 1010.3,144.7 1010.6,146.2 1010.9,148.0 1011.2,149.8 1011.5,151.9 1011.9,153.2 1012.2,155.0 1012.6,158.5 1012.9,161.9 1013.2,159.3 1013.5,156.7 1013.8,153.8 1014.1,152.5 1014.4,152.3 1014.8,151.2 1015.0,150.0 1015.3,148.0 1015.6,146.2 1015.9,144.3 1016.2,143.1 1016.5,141.9 1016.9,141.4 1017.2,141.9 1017.5,143.0 1017.8,145.2 1018.1,146.2 1018.4,147.0 1018.7,147.7 1019.0,148.1 1019.3,146.5 1019.7,144.8 1020.0,142.5 1020.3,142.2 1020.7,141.8 1021.0,141.2 1021.3,143.5 1021.6,145.6 1021.9,147.5 1022.2,148.6 1022.5,149.8 1022.8,150.6 1023.1,151.2 1023.4,152.4 1023.8,153.1 1024.1,154.3 1024.4,155.9 1024.8,156.9 1025.0,155.0 1025.3,153.6 1025.6,152.5 1025.9,152.0 1026.2,152.8 1026.6,152.9 1026.9,152.5 1027.2,153.9 1027.5,154.9 1027.8,156.2 1028.1,158.2 1028.4,159.9 1028.8,161.2 1029.1,161.9 1029.4,162.2 1029.8,163.1 1030.2,162.9 1030.6,163.0 1031.0,163.1 1031.3,162.3 1031.7,161.8 1032.0,161.2 1032.4,158.9 1032.8,156.2 1033.1,156.3 1033.4,155.0 1033.8,155.0 1034.2,154.4 1034.6,153.3 1035.0,153.1 1035.4,151.9 1035.8,151.8 1036.2,150.6 1036.7,150.5 1037.1,150.6 1037.5,150.0 1037.9,149.5 1038.3,148.7 1038.8,148.8 1039.1,148.4 1039.4,148.4 1039.8,148.1 1040.2,149.4 1040.6,150.3 1041.0,150.6 1041.4,151.4 1041.8,152.2 1042.2,153.1 1042.7,152.9 1043.1,153.7 1043.5,153.8 1043.9,153.9 1044.3,154.2 1044.8,155.0 1045.1,155.6 1045.4,156.6 1045.8,158.1 1046.1,158.7 1046.5,158.6 1046.9,159.4 1047.3,159.4 1047.7,158.1 1048.1,158.1 1048.5,158.5 1048.9,157.8 1049.3,157.6 1049.8,158.1 1050.0,159.6 1050.3,160.4 1050.6,161.9 1050.9,162.9 1051.2,163.2 1051.5,164.4 1051.9,163.7 1052.3,164.2 1052.8,163.8 1053.1,163.8 1053.4,163.7 1053.8,163.1 1054.1,164.6 1054.4,165.2 1054.8,166.9 1055.2,167.2 1055.6,167.5 1056.0,167.5 1056.3,166.4 1056.6,165.8 1056.9,164.4 1057.3,163.9 1057.7,164.4 1058.1,163.8 1058.5,163.8 1058.8,162.8 1059.1,163.1 1059.5,163.7 1059.9,165.4 1060.2,166.2 1060.6,166.2 1060.9,165.0 1061.2,165.0 1061.6,162.9 1061.9,161.5 1062.2,159.4 1062.7,158.0 1063.1,157.7 1063.5,156.2 1063.9,155.8 1064.3,155.0 1064.8,155.0 1065.2,155.3 1065.6,155.9 1066.0,156.2 1066.4,157.4 1066.8,158.9 1067.2,160.0 1067.7,160.9 1068.1,162.8 1068.5,163.8 1068.9,164.7 1069.3,166.0 1069.8,166.9 1070.2,166.4 1070.6,165.5 1071.0,165.0 1071.4,164.7 1071.8,165.0 1072.1,165.0 1072.5,164.4 1072.9,164.0 1073.3,163.2 1073.8,162.5 1074.2,161.9 1074.6,161.2 1075.0,161.2 1075.4,161.3 1075.8,160.6 1076.2,160.0 1076.6,162.0 1076.9,163.2 1077.2,165.0 1077.7,165.5 1078.1,166.3 1078.5,166.2 1078.9,166.3 1079.2,165.7 1079.6,165.1 1080.0,165.0 1080.4,164.8 1080.8,165.2 1081.2,164.8 1081.7,164.2 1082.1,164.1 1082.5,163.5 1082.9,163.9 1083.3,164.5 1083.8,164.4 1084.1,164.5 1084.5,163.8 1084.9,163.4 1085.2,163.8 1085.7,163.8 1086.1,164.2 1086.5,164.6 1086.9,164.8 1087.3,165.5 1087.7,166.0 1088.1,166.0 1088.5,165.3 1088.9,165.8 1089.3,165.6 1089.8,165.0 1090.1,165.4 1090.5,165.2 1090.9,165.0 1091.2,165.2 1091.6,165.5 1092.0,165.4 1092.4,165.2 1092.8,165.0 1093.2,165.6 1093.6,165.2 1094.0,165.1 1094.4,165.6 1094.8,165.5 1095.2,165.6 1095.6,164.9 1096.0,165.0 1096.4,165.5 1096.8,165.8 1097.2,165.6 1097.5,166.4 1097.8,167.8 1098.1,168.8 1098.4,169.8 1098.7,170.4 1099.0,171.2 1099.3,173.0 1099.7,175.2 1100.0,177.5 1100.2,180.0 1100.6,182.8 1100.9,185.3 1101.2,187.5 1101.6,186.0 1101.9,184.2 1102.2,183.1 1102.6,183.6 1102.9,183.8 1103.2,183.8 1103.6,184.5 1103.9,185.9 1104.2,186.9 1104.6,188.5 1104.9,189.8 1105.2,190.6 1105.7,190.8 1106.1,191.0 1106.5,191.2 1106.8,192.2 1107.2,192.6 1107.5,193.8 1107.8,191.8 1108.2,190.1 1108.5,188.8 1108.8,187.5 1109.1,185.7 1109.4,184.4 1109.7,184.2 1110.0,183.9 1110.2,183.8 1110.6,184.8 1110.9,185.5 1111.2,186.9 1111.7,186.3 1112.1,187.1 1112.5,186.5 1112.9,186.3 1113.3,185.9 1113.8,186.2 1114.2,185.8 1114.6,185.3 1115.0,184.4 1115.3,185.3 1115.7,187.0 1116.0,188.1 1116.4,188.4 1116.8,189.0 1117.2,189.4 1117.6,188.7 1118.0,188.6 1118.4,189.4 1118.8,188.8 1119.2,189.5 1119.6,189.6 1120.0,190.0 1120.4,190.4 1120.8,190.4 1121.1,191.2 1121.5,191.2 1121.9,191.0 1122.3,191.4 1122.7,191.0 1123.1,190.6 1123.4,191.2 1123.8,191.7 1124.1,191.3 1124.4,191.9 1124.8,190.4 1125.2,189.5 1125.6,188.8 1125.9,188.4 1126.2,188.3 1126.6,188.3 1126.9,188.8 1127.2,187.8 1127.5,187.0 1127.8,185.6 1128.1,185.2 1128.4,185.2 1128.8,184.4 1129.2,185.6 1129.6,185.6 1130.0,186.9 1130.4,187.2 1130.8,187.2 1131.2,187.5 1131.7,186.8 1132.1,187.3 1132.5,186.5 1132.9,186.1 1133.2,186.3 1133.6,186.3 1134.0,186.0 1134.4,186.3 1134.8,185.8 1135.2,185.3 1135.6,185.2 1135.9,185.1 1136.2,184.7 1136.6,185.3 1136.9,184.8 1137.3,185.3 1137.7,184.6 1138.1,185.0 1138.4,184.2 1138.8,184.0 1139.1,183.7 1139.4,183.5 1139.7,182.3 1140.0,180.7 1140.2,178.8 1140.6,177.2 1141.0,175.0 1141.4,174.1 1141.8,174.3 1142.2,173.5 1142.7,174.0 1143.1,174.2 1143.5,174.4 1143.9,174.4 1144.3,173.1 1144.8,173.1 1145.2,172.6 1145.6,173.1 1146.0,172.8 1146.3,172.9 1146.6,172.3 1146.9,171.9 1147.3,172.3 1147.7,173.2 1148.1,173.8 1148.4,173.5 1148.8,172.4 1149.1,172.2 1149.4,171.9 1149.8,170.8 1150.2,169.8 1150.6,169.4 1150.9,168.7 1151.2,167.8 1151.5,167.5 1151.9,164.1 1152.2,161.2 1152.5,159.0 1152.8,157.7 1153.1,155.6 1153.4,156.2 1153.7,157.9 1154.0,158.8 1154.3,157.2 1154.7,155.8 1155.0,155.0 1155.4,155.6 1155.8,155.1 1156.2,155.6 1156.6,155.0 1156.9,153.9 1157.2,152.5 1157.7,152.8 1158.1,152.0 1158.5,152.2 1158.9,153.5 1159.3,154.5 1159.8,156.2 1160.2,156.9 1160.6,157.0 1161.0,156.9 1161.4,156.0 1161.8,154.8 1162.2,153.8 1162.7,152.3 1163.1,151.6 1163.5,150.0 1163.9,148.9 1164.3,148.1 1164.8,146.9 1165.1,142.8 1165.4,139.4 1165.7,138.2 1166.0,137.5 1166.3,139.3 1166.6,142.3 1166.9,144.4 1167.2,143.6 1167.5,142.4 1167.8,141.9 1168.1,141.8 1168.4,140.8 1168.8,140.6 1169.1,139.7 1169.4,138.6 1169.8,138.1 1170.0,138.7 1170.3,140.1 1170.6,140.6 1170.9,141.7 1171.2,142.8 1171.5,144.4 1171.8,145.6 1172.2,146.7 1172.5,148.1 1172.8,147.5 1173.2,145.7 1173.5,145.0 1173.8,146.3 1174.2,146.2 1174.5,147.5 1174.9,148.3 1175.2,148.5 1175.6,148.8 1175.9,148.2 1176.2,148.3 1176.5,148.1 1176.8,146.2 1177.2,144.5 1177.5,143.1 1177.8,141.8 1178.2,140.9 1178.5,140.0 1178.9,140.5 1179.3,140.5 1179.8,140.0 1180.2,141.9 1180.6,142.5 1181.0,144.4 1181.4,144.6 1181.8,145.6 1182.2,145.6 1182.7,145.0 1183.1,145.4 1183.5,145.0 1183.9,145.2 1184.3,146.3 1184.8,146.2 1185.2,146.4 1185.6,147.8 1186.0,148.1 1186.4,146.9 1186.8,145.7 1187.2,145.0 1187.6,144.7 1188.0,145.6 1188.4,145.5 1188.8,145.6 1189.1,145.2 1189.5,145.2 1189.9,145.6 1190.2,145.0 1190.7,145.1 1191.1,145.9 1191.5,146.2 1191.9,146.1 1192.3,146.3 1192.8,146.9 1193.1,149.4 1193.4,151.7 1193.8,153.8 1194.2,154.1 1194.6,154.6 1195.0,155.6 1195.4,154.9 1195.8,155.2 1196.2,154.8 1196.7,154.9 1197.1,154.9 1197.5,155.2 1197.9,154.5 1198.3,154.4 1198.8,153.8 1199.2,154.5 1199.6,155.1 1200.0,155.2 1200.4,155.5 1200.8,155.2 1201.2,155.6 1201.6,156.0 1201.9,157.5 1202.2,158.1 1202.5,155.1 1202.8,152.5 1203.1,149.4 1203.4,148.8 1203.8,149.4 1204.1,148.7 1204.4,148.8 1204.8,149.3 1205.2,149.5 1205.6,149.4 1205.9,149.7 1206.2,149.5 1206.6,150.7 1206.9,150.6 1207.3,151.0 1207.7,151.8 1208.1,151.9 1208.4,152.1 1208.8,152.5 1209.1,153.6 1209.4,153.8 1209.8,154.4 1210.2,155.1 1210.6,156.2 1210.9,157.5 1211.2,159.2 1211.6,160.0 1211.9,161.9 1212.3,160.9 1212.7,159.7 1213.1,158.8 1213.4,158.9 1213.8,158.7 1214.1,159.4 1214.4,159.4 1214.8,159.5 1215.2,159.3 1215.6,158.8 1215.9,158.9 1216.2,159.6 1216.6,159.6 1216.9,160.0 1217.3,160.5 1217.7,160.0 1218.1,160.6 1218.4,161.6 1218.7,162.3 1219.0,162.5 1219.4,161.4 1219.8,160.4 1220.2,159.4 1220.7,159.6 1221.1,159.8 1221.5,160.0 1221.9,159.3 1222.3,160.1 1222.8,159.4"/>
<path d="M438.5 80.5V720.5" stroke="#000" stroke-width="1.4"/>
<path d="M838.5 80.5V720.5" stroke="#000" stroke-width="1.4"/>
<rect x="175.5" y="80.5" width="1085.0" height="640.0" fill="none" stroke="#000" stroke-width="1.45"/>
<path d="M226.5 720.5v-5.6M226.5 80.5v5.6M337.5 720.5v-5.6M337.5 80.5v5.6M448.5 720.5v-5.6M448.5 80.5v5.6M558.5 720.5v-5.6M558.5 80.5v5.6M669.5 720.5v-5.6M669.5 80.5v5.6M780.5 720.5v-5.6M780.5 80.5v5.6M891.5 720.5v-5.6M891.5 80.5v5.6M1001.5 720.5v-5.6M1001.5 80.5v5.6M1112.5 720.5v-5.6M1112.5 80.5v5.6M1223.5 720.5v-5.6M1223.5 80.5v5.6M175.5 720.5h5.6M1260.5 720.5h-5.6M175.5 691.5h2.8M1260.5 691.5h-2.8M175.5 674.5h2.8M1260.5 674.5h-2.8M175.5 662.5h2.8M1260.5 662.5h-2.8M175.5 653.5h2.8M1260.5 653.5h-2.8M175.5 646.5h2.8M1260.5 646.5h-2.8M175.5 639.5h2.8M1260.5 639.5h-2.8M175.5 634.5h2.8M1260.5 634.5h-2.8M175.5 629.5h2.8M1260.5 629.5h-2.8M175.5 624.5h5.6M1260.5 624.5h-5.6M175.5 596.5h2.8M1260.5 596.5h-2.8M175.5 579.5h2.8M1260.5 579.5h-2.8M175.5 567.5h2.8M1260.5 567.5h-2.8M175.5 558.5h2.8M1260.5 558.5h-2.8M175.5 550.5h2.8M1260.5 550.5h-2.8M175.5 544.5h2.8M1260.5 544.5h-2.8M175.5 538.5h2.8M1260.5 538.5h-2.8M175.5 533.5h2.8M1260.5 533.5h-2.8M175.5 529.5h5.6M1260.5 529.5h-5.6M175.5 500.5h2.8M1260.5 500.5h-2.8M175.5 483.5h2.8M1260.5 483.5h-2.8M175.5 471.5h2.8M1260.5 471.5h-2.8M175.5 462.5h2.8M1260.5 462.5h-2.8M175.5 455.5h2.8M1260.5 455.5h-2.8M175.5 448.5h2.8M1260.5 448.5h-2.8M175.5 443.5h2.8M1260.5 443.5h-2.8M175.5 438.5h2.8M1260.5 438.5h-2.8M175.5 433.5h5.6M1260.5 433.5h-5.6M175.5 405.5h2.8M1260.5 405.5h-2.8M175.5 388.5h2.8M1260.5 388.5h-2.8M175.5 376.5h2.8M1260.5 376.5h-2.8M175.5 367.5h2.8M1260.5 367.5h-2.8M175.5 359.5h2.8M1260.5 359.5h-2.8M175.5 353.5h2.8M1260.5 353.5h-2.8M175.5 347.5h2.8M1260.5 347.5h-2.8M175.5 342.5h2.8M1260.5 342.5h-2.8M175.5 338.5h5.6M1260.5 338.5h-5.6M175.5 309.5h2.8M1260.5 309.5h-2.8M175.5 292.5h2.8M1260.5 292.5h-2.8M175.5 280.5h2.8M1260.5 280.5h-2.8M175.5 271.5h2.8M1260.5 271.5h-2.8M175.5 263.5h2.8M1260.5 263.5h-2.8M175.5 257.5h2.8M1260.5 257.5h-2.8M175.5 252.5h2.8M1260.5 252.5h-2.8M175.5 247.5h2.8M1260.5 247.5h-2.8M175.5 242.5h5.6M1260.5 242.5h-5.6M175.5 214.5h2.8M1260.5 214.5h-2.8M175.5 197.5h2.8M1260.5 197.5h-2.8M175.5 185.5h2.8M1260.5 185.5h-2.8M175.5 176.5h2.8M1260.5 176.5h-2.8M175.5 168.5h2.8M1260.5 168.5h-2.8M175.5 162.5h2.8M1260.5 162.5h-2.8M175.5 156.5h2.8M1260.5 156.5h-2.8M175.5 151.5h2.8M1260.5 151.5h-2.8M175.5 147.5h5.6M1260.5 147.5h-5.6M175.5 118.5h2.8M1260.5 118.5h-2.8M175.5 101.5h2.8M1260.5 101.5h-2.8M175.5 89.5h2.8M1260.5 89.5h-2.8M175.5 80.5h2.8M1260.5 80.5h-2.8" stroke="#000" stroke-width="0.7" fill="none"/>
<text font-size="16.67px" text-anchor="end" transform="translate(230.75,728.90) rotate(-90) scale(0.9720,1.0500)">2011</text>
<text font-size="16.67px" text-anchor="end" transform="translate(341.43,728.90) rotate(-90) scale(0.9720,1.0500)">2012</text>
<text font-size="16.67px" text-anchor="end" transform="translate(452.42,728.90) rotate(-90) scale(0.9720,1.0500)">2013</text>
<text font-size="16.67px" text-anchor="end" transform="translate(563.11,728.90) rotate(-90) scale(0.9720,1.0500)">2014</text>
<text font-size="16.67px" text-anchor="end" transform="translate(673.79,728.90) rotate(-90) scale(0.9720,1.0500)">2015</text>
<text font-size="16.67px" text-anchor="end" transform="translate(784.48,728.90) rotate(-90) scale(0.9720,1.0500)">2016</text>
<text font-size="16.67px" text-anchor="end" transform="translate(895.47,728.90) rotate(-90) scale(0.9720,1.0500)">2017</text>
<text font-size="16.67px" text-anchor="end" transform="translate(1006.16,728.90) rotate(-90) scale(0.9720,1.0500)">2018</text>
<text font-size="16.67px" text-anchor="end" transform="translate(1116.84,728.90) rotate(-90) scale(0.9720,1.0500)">2019</text>
<text font-size="16.67px" text-anchor="end" transform="translate(1227.53,728.90) rotate(-90) scale(0.9720,1.0500)">2020</text>
<text font-size="16.67px" text-anchor="end" transform="translate(168.90,725.50) scale(0.9960,1.0500)">10<tspan font-size="11.67px" dx="1.5" dy="-7.1">-2</tspan></text>
<text font-size="16.67px" text-anchor="end" transform="translate(168.90,629.96) scale(0.9960,1.0500)">10<tspan font-size="11.67px" dx="1.5" dy="-7.1">-1</tspan></text>
<text font-size="16.67px" text-anchor="end" transform="translate(168.90,534.42) scale(0.9960,1.0500)">10<tspan font-size="11.67px" dx="1.5" dy="-7.1">0</tspan></text>
<text font-size="16.67px" text-anchor="end" transform="translate(168.90,438.88) scale(0.9960,1.0500)">10<tspan font-size="11.67px" dx="1.5" dy="-7.1">1</tspan></text>
<text font-size="16.67px" text-anchor="end" transform="translate(168.90,343.34) scale(0.9960,1.0500)">10<tspan font-size="11.67px" dx="1.5" dy="-7.1">2</tspan></text>
<text font-size="16.67px" text-anchor="end" transform="translate(168.90,247.80) scale(0.9960,1.0500)">10<tspan font-size="11.67px" dx="1.5" dy="-7.1">3</tspan></text>
<text font-size="16.67px" text-anchor="end" transform="translate(168.90,152.26) scale(0.9960,1.0500)">10<tspan font-size="11.67px" dx="1.5" dy="-7.1">4</tspan></text>
<text font-size="20.00px" text-anchor="middle" transform="translate(718.00,73.00) scale(1.0030,1.0000)">bitcoin price movements seem to become tamer with time</text>
<text font-size="16.67px" text-anchor="middle" transform="translate(718.10,789.00) scale(0.9720,1.0900)">date</text>
<text font-size="16.67px" text-anchor="middle" transform="translate(123.20,400.50) rotate(-90) scale(0.9960,1.0900)">btc price in USD</text>
<rect x="185.5" y="90.5" width="160" height="35" fill="#fff" stroke="#000" stroke-width="1.4"/>
<path d="M199 106.5H228" stroke="#0000ff" stroke-width="1.39"/>
<text font-size="20.00px" transform="translate(249.50,112.50)">btc price</text>
<text font-size="16.67px" transform="translate(180.20,155.80) scale(0.9960,1.0900)">period before the first halving</text>
<text font-size="16.67px" transform="translate(494.00,117.50) scale(0.9960,1.0900)">period between the two halvings</text>
<text font-size="16.67px" transform="translate(909.00,100.50) scale(0.9960,1.0900)">period after the second halving</text>
<text font-size="16.67px" transform="translate(199.00,673.50) scale(0.9960,1.0900)">strong slopes</text>
<text font-size="16.67px" transform="translate(550.00,511.50) scale(0.9960,1.0900)">less strong slopes</text>
<text font-size="16.67px" transform="translate(947.00,349.50) scale(0.9960,1.0900)">even less strong slopes</text>
<text font-size="41.67px" transform="translate(337.00,652.50) scale(1.0000,1.0250)" style="fill:#000" fill-opacity="0.5">1</text>
<text font-size="41.67px" transform="translate(595.00,652.50) scale(1.0000,1.0250)" style="fill:#000" fill-opacity="0.5">2</text>
<text font-size="41.67px" transform="translate(1039.00,652.50) scale(1.0000,1.0250)" style="fill:#000" fill-opacity="0.5">3</text>
<path d="M253.2 660.8L206.1 627.4M213.9 628.6L206.1 627.4L209.8 634.4" stroke="#000" stroke-width="1.39" fill="none" stroke-linejoin="miter"/>
<path d="M253.2 660.8L236.2 546.6M240.7 553.1L236.2 546.6L233.7 554.1" stroke="#000" stroke-width="1.39" fill="none" stroke-linejoin="miter"/>
<path d="M253.2 660.8L261.8 486.6M265.0 493.8L261.8 486.6L258.0 493.5" stroke="#000" stroke-width="1.39" fill="none" stroke-linejoin="miter"/>
<path d="M253.2 660.8L298.6 446.2M300.6 453.8L298.6 446.2L293.7 452.4" stroke="#000" stroke-width="1.39" fill="none" stroke-linejoin="miter"/>
<path d="M603.6 498.1L473.3 372.4M480.8 374.7L473.3 372.4L475.9 379.8" stroke="#000" stroke-width="1.39" fill="none" stroke-linejoin="miter"/>
<path d="M603.6 498.1L541.0 313.4M546.6 319.0L541.0 313.4L539.9 321.3" stroke="#000" stroke-width="1.39" fill="none" stroke-linejoin="miter"/>
<path d="M1001.6 335.9L930.0 232.9M937.0 236.7L930.0 232.9L931.2 240.7" stroke="#000" stroke-width="1.39" fill="none" stroke-linejoin="miter"/>
<path d="M1001.6 335.9L992.7 150.6M996.5 157.5L992.7 150.6L989.5 157.8" stroke="#000" stroke-width="1.39" fill="none" stroke-linejoin="miter"/>
<path d="M1001.6 335.9L1097.5 184.0M1096.7 191.9L1097.5 184.0L1090.8 188.1" stroke="#000" stroke-width="1.39" fill="none" stroke-linejoin="miter"/>
</svg></body></html>
